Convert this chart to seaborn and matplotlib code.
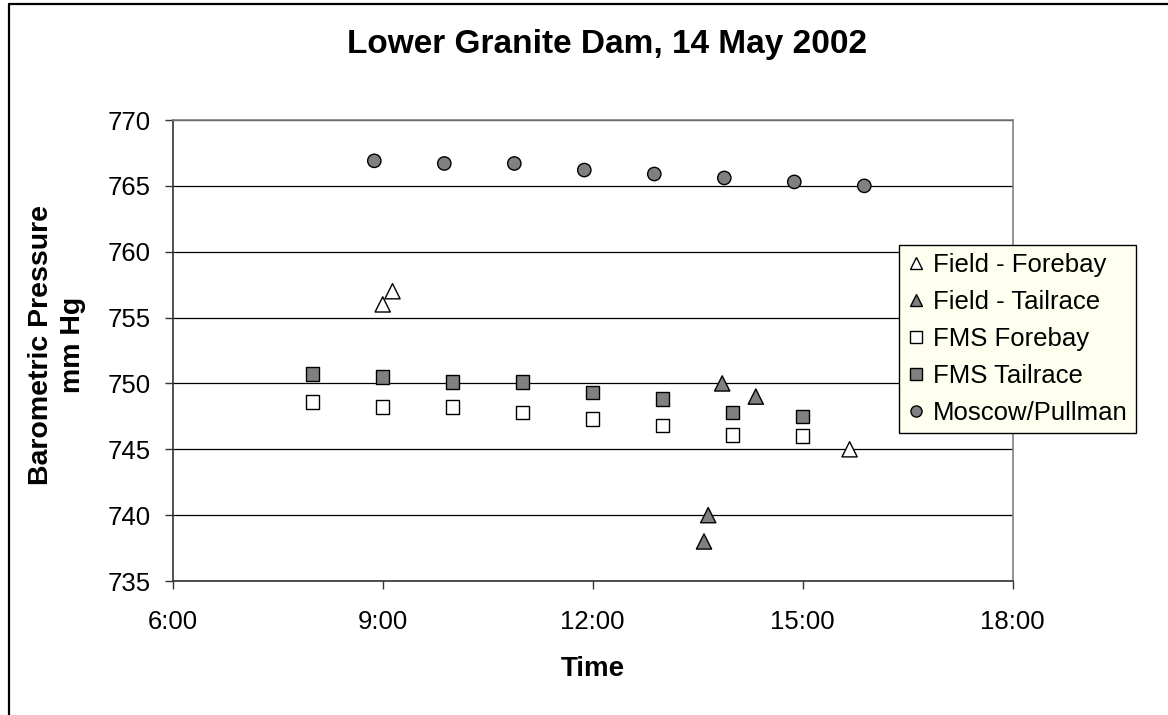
import matplotlib
matplotlib.use("Agg")
import matplotlib.pyplot as plt
from matplotlib.lines import Line2D
import seaborn as sns
import pandas as pd

# Barometric pressure readings (mm Hg) at Lower Granite Dam, 14 May 2002
# Times are decimal hours of the day.
field_forebay_time = [9.00, 9.14, 15.67]
field_forebay_mmhg = [756.0, 757.0, 745.0]

field_tailrace_time = [13.59, 13.65, 13.85, 14.33]
field_tailrace_mmhg = [738.0, 740.0, 750.0, 749.0]

fms_time = [8.0, 9.0, 10.0, 11.0, 12.0, 13.0, 14.0, 15.0]
fms_forebay_mmhg = [748.6, 748.2, 748.2, 747.8, 747.3, 746.8, 746.1, 746.0]
fms_tailrace_mmhg = [750.7, 750.5, 750.1, 750.1, 749.3, 748.8, 747.8, 747.5]

moscow_time = [8.88, 9.88, 10.88, 11.88, 12.88, 13.88, 14.88, 15.88]
moscow_mmhg = [766.9, 766.7, 766.7, 766.2, 765.9, 765.6, 765.3, 765.0]

series_names = ["Field - Forebay", "Field - Tailrace", "FMS Forebay",
                "FMS Tailrace", "Moscow/Pullman"]

x_ticks = [6, 9, 12, 15, 18]
x_tick_labels = ["6:00", "9:00", "12:00", "15:00", "18:00"]
y_ticks = [735, 740, 745, 750, 755, 760, 765, 770]

frames = [
    pd.DataFrame({"time": field_forebay_time, "mmhg": field_forebay_mmhg, "series": series_names[0]}),
    pd.DataFrame({"time": field_tailrace_time, "mmhg": field_tailrace_mmhg, "series": series_names[1]}),
    pd.DataFrame({"time": fms_time, "mmhg": fms_forebay_mmhg, "series": series_names[2]}),
    pd.DataFrame({"time": fms_time, "mmhg": fms_tailrace_mmhg, "series": series_names[3]}),
    pd.DataFrame({"time": moscow_time, "mmhg": moscow_mmhg, "series": series_names[4]}),
]
df = pd.concat(frames, ignore_index=True)

GRAY = "#808080"
palette = dict(zip(series_names, ["white", GRAY, "white", GRAY, GRAY]))
markers = dict(zip(series_names, ["^", "^", "s", "s", "o"]))
marker_area = dict(zip(series_names, [120, 120, 95, 95, 92]))

sns.set_theme(style="white")
plt.rcParams["font.family"] = ["Liberation Sans", "DejaVu Sans"]
plt.rcParams["text.color"] = "black"
plt.rcParams["axes.labelcolor"] = "black"

fig = plt.figure(figsize=(11.68, 7.15), dpi=100)
ax = fig.add_axes([172.7 / 1168, 1 - 581 / 715, 840 / 1168, 461 / 715])

sns.scatterplot(data=df, x="time", y="mmhg", hue="series", style="series",
                size="series", sizes=marker_area,
                palette=palette, markers=markers, hue_order=series_names,
                style_order=series_names, size_order=series_names,
                edgecolor="black", linewidth=1.0, ax=ax, zorder=3)

ax.get_legend().remove()

ax.set_xlim(6, 18)
ax.set_ylim(735, 770)
ax.set_xticks(x_ticks)
ax.set_xticklabels(x_tick_labels)
ax.set_yticks(y_ticks)
ax.yaxis.grid(True, color="black", linewidth=0.9, zorder=0)
ax.xaxis.grid(False)
ax.set_axisbelow(True)

for side in ("left", "bottom"):
    ax.spines[side].set_color("#333333")
    ax.spines[side].set_linewidth(1.2)
for side in ("top", "right"):
    ax.spines[side].set_color(GRAY)
    ax.spines[side].set_linewidth(1.2)

ax.tick_params(axis="both", which="major", direction="out", length=6,
               width=1.0, color="#333333", labelsize=18.5, labelcolor="black")
ax.tick_params(axis="y", pad=10, left=True)
ax.tick_params(axis="x", pad=15, bottom=True)

ax.set_xlabel("Time", fontsize=20, fontweight="bold")
ax.xaxis.set_label_coords(0.5, -(669 - 581) / 461)
ax.xaxis.label.set_va("center")

ax.set_ylabel("Barometric Pressure\nmm Hg", fontsize=20.5, fontweight="bold",
              linespacing=1.3)
ax.yaxis.set_label_coords((56.5 - 172.7) / 840, (581 - 345) / 461)
ax.yaxis.label.set_va("center")

fig.text(607 / 1168, 1 - 45 / 715, "Lower Granite Dam, 14 May 2002",
         ha="center", va="center", fontsize=24, fontweight="bold")

# Legend entries with small outlined markers
handles = [Line2D([], [], linestyle="none", marker=markers[n], markersize=8,
                  markerfacecolor=palette[n], markeredgecolor="black",
                  markeredgewidth=1.0) for n in series_names]
leg = ax.legend(handles, series_names, loc="upper left",
                bbox_to_anchor=(898.7 / 1168, 1 - 245 / 715),
                bbox_transform=fig.transFigure, frameon=True, fancybox=False,
                fontsize=18.5, handlelength=0.72,
                handletextpad=0.3, labelspacing=0.5, borderpad=0.32,
                borderaxespad=0.0)
frame = leg.get_frame()
frame.set_facecolor("#FFFFF0")
frame.set_edgecolor("black")
frame.set_linewidth(1.0)
frame.set_alpha(1.0)
leg.set_zorder(10)

# Chart-area border on the top and left edges
fig.add_artist(Line2D([8.5 / 1168, 1.0], [1 - 3.5 / 715, 1 - 3.5 / 715],
                      transform=fig.transFigure, color="black", linewidth=1.6))
fig.add_artist(Line2D([8.5 / 1168, 8.5 / 1168], [0.0, 1 - 3.5 / 715],
                      transform=fig.transFigure, color="black", linewidth=1.6))

fig.savefig("out.png", dpi=100, facecolor="white")
